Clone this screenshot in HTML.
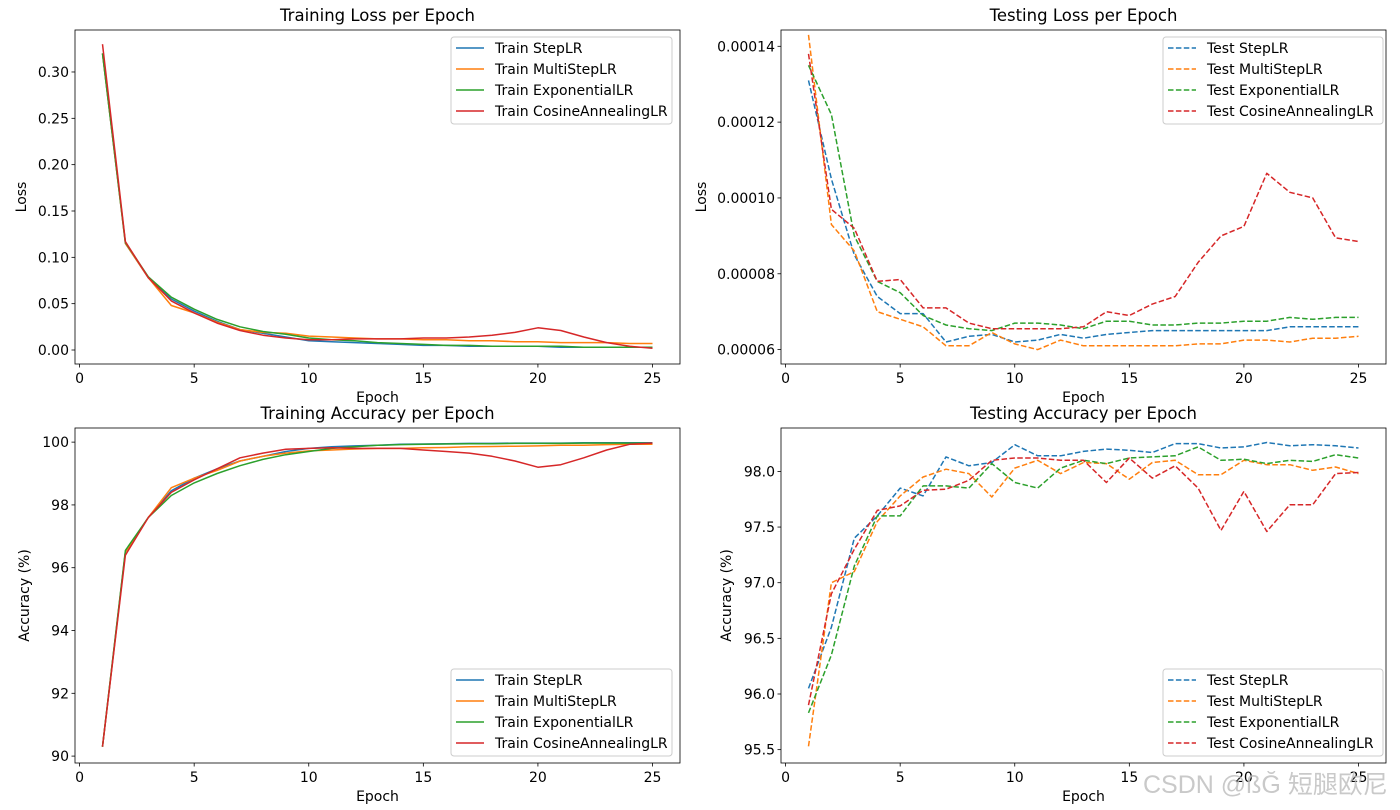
<!DOCTYPE html>
<html><head><meta charset="utf-8">
<style>
body{margin:0;background:#fff;}
svg{display:block;font-family:"DejaVu Sans","Liberation Sans",sans-serif;}
</style></head>
<body>
<svg id="fig" width="1400" height="810" viewBox="0 0 1400 810" xmlns="http://www.w3.org/2000/svg"></svg>
<script>
const epochs = [1,2,3,4,5,6,7,8,9,10,11,12,13,14,15,16,17,18,19,20,21,22,23,24,25];
const seriesNames = ["StepLR","MultiStepLR","ExponentialLR","CosineAnnealingLR"];
const colors = ["#1f77b4","#ff7f0e","#2ca02c","#d62728"];
const trainLossStep = [.32,.115,.078,.055,.042,.031,.022,.018,.014,.010,.009,.008,.007,.006,.005,.005,.004,.004,.004,.004,.003,.003,.003,.003,.003];
const trainLossMulti = [.32,.115,.078,.048,.040,.030,.022,.019,.018,.015,.014,.013,.012,.012,.011,.011,.010,.010,.009,.009,.008,.008,.008,.007,.007];
const trainLossExp = [.32,.116,.079,.057,.044,.033,.025,.020,.017,.013,.011,.010,.008,.007,.006,.005,.005,.004,.004,.004,.004,.003,.003,.003,.003];
const trainLossCos = [.33,.117,.078,.053,.040,.029,.021,.016,.013,.011,.011,.012,.012,.012,.013,.013,.014,.016,.019,.024,.021,.014,.008,.004,.002];
const testLossStep = [13.1,10.5,8.5,7.4,6.95,6.95,6.2,6.35,6.4,6.2,6.25,6.4,6.3,6.4,6.45,6.5,6.5,6.5,6.5,6.5,6.5,6.6,6.6,6.6,6.6];
const testLossMulti = [14.3,9.3,8.6,7.0,6.8,6.6,6.1,6.1,6.45,6.15,6.0,6.25,6.1,6.1,6.1,6.1,6.1,6.15,6.15,6.25,6.25,6.2,6.3,6.3,6.35];
const testLossExp = [13.5,12.2,9.0,7.8,7.5,6.9,6.65,6.55,6.5,6.7,6.7,6.65,6.55,6.75,6.75,6.65,6.65,6.7,6.7,6.75,6.75,6.85,6.8,6.85,6.85];
const testLossCos = [13.8,9.7,9.2,7.8,7.85,7.1,7.1,6.7,6.55,6.55,6.55,6.55,6.6,7.0,6.9,7.2,7.4,8.3,9.0,9.25,10.65,10.15,10.0,8.95,8.85];
const trainAccStep = [90.3,96.5,97.6,98.45,98.85,99.15,99.4,99.55,99.7,99.8,99.85,99.88,99.9,99.93,99.94,99.95,99.96,99.96,99.97,99.97,99.97,99.98,99.98,99.98,99.98];
const trainAccMulti = [90.3,96.5,97.6,98.55,98.85,99.1,99.4,99.55,99.65,99.72,99.75,99.78,99.8,99.8,99.82,99.83,99.85,99.86,99.87,99.88,99.9,99.9,99.92,99.93,99.93];
const trainAccExp = [90.3,96.55,97.6,98.3,98.7,99.0,99.25,99.45,99.6,99.7,99.8,99.85,99.9,99.92,99.93,99.94,99.95,99.95,99.96,99.96,99.96,99.97,99.97,99.97,99.97];
const trainAccCos = [90.3,96.4,97.6,98.4,98.8,99.15,99.5,99.65,99.77,99.8,99.82,99.8,99.8,99.8,99.75,99.7,99.65,99.55,99.4,99.2,99.28,99.5,99.75,99.93,99.97];
const testAccStep = [96.05,96.6,97.4,97.6,97.85,97.78,98.13,98.05,98.08,98.24,98.14,98.14,98.18,98.2,98.19,98.17,98.25,98.25,98.21,98.22,98.26,98.23,98.24,98.23,98.21];
const testAccMulti = [95.53,97.0,97.1,97.55,97.78,97.95,98.02,97.98,97.77,98.03,98.1,97.98,98.08,98.07,97.93,98.08,98.1,97.97,97.97,98.1,98.06,98.06,98.01,98.04,97.98];
const testAccExp = [95.83,96.35,97.15,97.6,97.6,97.87,97.87,97.85,98.07,97.9,97.85,98.03,98.1,98.07,98.12,98.13,98.14,98.22,98.1,98.11,98.07,98.1,98.09,98.15,98.12];
const testAccCos = [95.9,96.9,97.3,97.65,97.69,97.83,97.84,97.92,98.1,98.12,98.12,98.1,98.1,97.9,98.12,97.94,98.05,97.85,97.47,97.82,97.46,97.7,97.7,97.98,97.99];
const xTicks = [0,5,10,15,20,25];
const lossTicks = [0,0.05,0.10,0.15,0.20,0.25,0.30];
const lossTickLabels = ["0.00","0.05","0.10","0.15","0.20","0.25","0.30"];
const testLossTicks = [6,8,10,12,14];
const testLossTickLabels = ["0.00006","0.00008","0.00010","0.00012","0.00014"];
const trainAccTicks = [90,92,94,96,98,100];
const trainAccTickLabels = ["90","92","94","96","98","100"];
const testAccTicks = [95.5,96,96.5,97,97.5,98];
const testAccTickLabels = ["95.5","96.0","96.5","97.0","97.5","98.0"];

const NS = "http://www.w3.org/2000/svg";
const fig = document.getElementById('fig');
function mk(tag, attrs, parent, text){
  const e = document.createElementNS(NS, tag);
  for (const k in attrs) e.setAttribute(k, attrs[k]);
  if (text !== undefined) e.textContent = text;
  parent.appendChild(e);
  return e;
}

function panel(cfg){
  const g = mk('g', {}, fig);
  
  
  const L=cfg.box[0], R=cfg.box[1], T=cfg.box[2], B=cfg.box[3];
  const xmin=-0.2, xmax=26.2;
  const X = v => L + (v - xmin) / (xmax - xmin) * (R - L);
  const Y = v => B - (v - cfg.ymin) / (cfg.ymax - cfg.ymin) * (B - T);
  cfg.series.forEach((arr, i) => {
    const pts = arr.map((v, j) => X(epochs[j]).toFixed(1) + ',' + Y(v).toFixed(1)).join(' ');
    const pl = mk('polyline', {points: pts, fill: 'none', stroke: colors[i], 'stroke-width': 1.5, 'stroke-linejoin': 'round'}, g);
    if (cfg.dashed) pl.setAttribute('stroke-dasharray', '5.5,2.4');
    
    
  });
  const fr = mk('rect', {x: L, y: T, width: R - L, height: B - T, fill: 'none', stroke: '#000', 'stroke-width': 0.8}, g);
  
  
  xTicks.forEach(t => {
    const x = X(t);
    mk('line', {x1: x, x2: x, y1: B, y2: B + 3.5, stroke: '#000', 'stroke-width': 0.8}, g);
    const tx = mk('text', {x: x, y: B + 19, 'font-size': 14, 'text-anchor': 'middle', fill: '#000'}, g, String(t));
    
    
  });
  cfg.yTicks.forEach((t, i) => {
    const y = Y(t);
    mk('line', {x1: L - 3.5, x2: L, y1: y, y2: y, stroke: '#000', 'stroke-width': 0.8}, g);
    const ty = mk('text', {x: L - 6, y: y + 5, 'font-size': 14, 'text-anchor': 'end', fill: '#000'}, g, cfg.yLabels[i]);
    
    
  });
  const xt = mk('text', {x: (L + R) / 2, y: B + 38, 'font-size': 14, 'text-anchor': 'middle'}, g, 'Epoch');
  
  
  const cy = (T + B) / 2;
  const yt = mk('text', {x: cfg.ylabelX, y: cy, 'font-size': 14, 'text-anchor': 'middle', transform: 'rotate(-90 ' + cfg.ylabelX + ' ' + cy + ')'}, g, cfg.ylabel);
  
  
  const ti = mk('text', {x: (L + R) / 2, y: T - 9, 'font-size': 16.5, 'text-anchor': 'middle'}, g, cfg.title);
  
  
  const lx = cfg.legend[0], ly = cfg.legend[1], lw = cfg.legend[2];
  const lg = mk('g', {}, g);
  
  
  mk('rect', {x: lx, y: ly, width: lw, height: 87, rx: 3, fill: '#fff', 'fill-opacity': 0.8, stroke: '#ccc', 'stroke-width': 1}, lg);
  seriesNames.forEach((n, i) => {
    const yy = ly + 11 + i * 21;
    const ln = mk('line', {x1: lx + 5, x2: lx + 33, y1: yy, y2: yy, stroke: colors[i], 'stroke-width': 1.5}, lg);
    if (cfg.dashed) ln.setAttribute('stroke-dasharray', '5.5,2.4');
    const le = mk('text', {x: lx + 44, y: yy + 5, 'font-size': 14}, lg, cfg.prefix + ' ' + n);
    
    
  });
}

panel({name: 'training-loss-chart', box: [75, 680, 30, 364], ymin: -0.0151, ymax: 0.3453,
  series: [trainLossStep, trainLossMulti, trainLossExp, trainLossCos], yTicks: lossTicks, yLabels: lossTickLabels,
  ylabel: 'Loss', ylabelX: 26, title: 'Training Loss per Epoch', prefix: 'Train', dashed: false, legend: [451, 37, 221]});
panel({name: 'testing-loss-chart', box: [781, 1386, 30, 364], ymin: 5.62, ymax: 14.43,
  series: [testLossStep, testLossMulti, testLossExp, testLossCos], yTicks: testLossTicks, yLabels: testLossTickLabels,
  ylabel: 'Loss', ylabelX: 706, title: 'Testing Loss per Epoch', prefix: 'Test', dashed: true, legend: [1163, 37, 220]});
panel({name: 'training-accuracy-chart', box: [75, 680, 428, 763], ymin: 89.78, ymax: 100.45,
  series: [trainAccStep, trainAccMulti, trainAccExp, trainAccCos], yTicks: trainAccTicks, yLabels: trainAccTickLabels,
  ylabel: 'Accuracy (%)', ylabelX: 29, title: 'Training Accuracy per Epoch', prefix: 'Train', dashed: false, legend: [451, 669, 221]});
panel({name: 'testing-accuracy-chart', box: [781, 1386, 428, 763], ymin: 95.38, ymax: 98.39,
  series: [testAccStep, testAccMulti, testAccExp, testAccCos], yTicks: testAccTicks, yLabels: testAccTickLabels,
  ylabel: 'Accuracy (%)', ylabelX: 731, title: 'Testing Accuracy per Epoch', prefix: 'Test', dashed: true, legend: [1163, 669, 220]});

const wm = mk('text', {x: 1143, y: 793, 'font-size': 25, fill: '#bbb', 'fill-opacity': 0.8, 'font-family': '"Liberation Sans","Noto Sans CJK SC",sans-serif'}, fig, 'CSDN @ßĞ 短腿欧尼');


</script>
</body></html>
